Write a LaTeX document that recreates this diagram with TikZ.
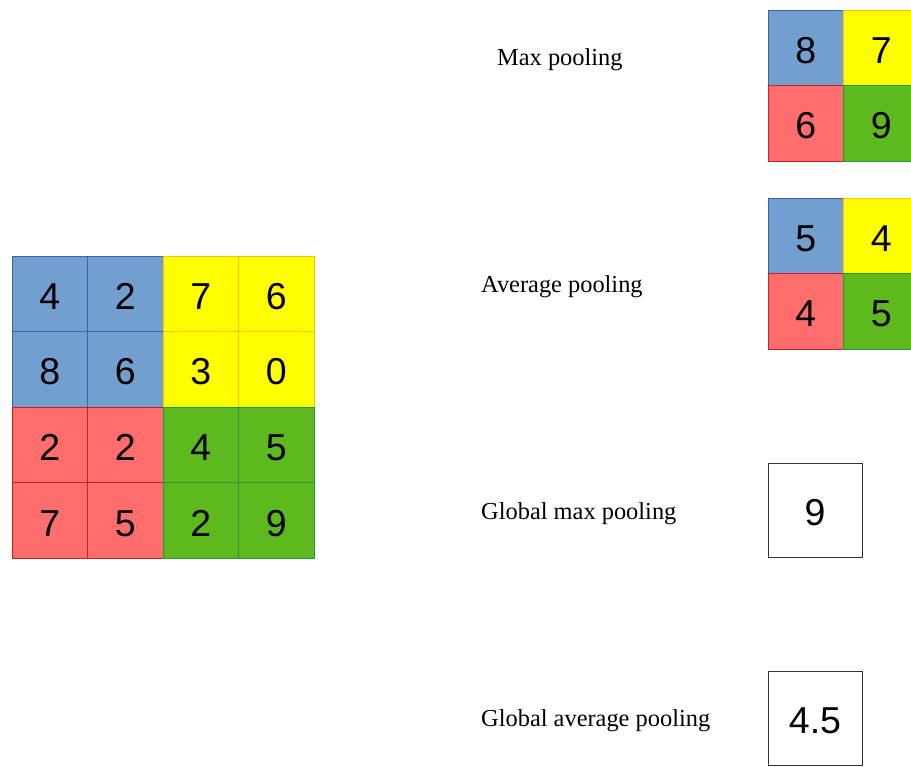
\documentclass[tikz,border=0pt]{standalone}
\usepackage{fontspec}
\setmainfont{Liberation Serif}
\newfontfamily\numfont{Liberation Sans}
\usetikzlibrary{positioning}
\definecolor{poolBlue}{HTML}{729FCF}
\definecolor{poolBlueBd}{HTML}{3465A4}
\definecolor{poolYellow}{HTML}{FFFF00}
\definecolor{poolYellowBd}{HTML}{FFBF00}
\definecolor{poolRed}{HTML}{FF6D6D}
\definecolor{poolRedBd}{HTML}{C9211E}
\definecolor{poolGreen}{HTML}{5EB91E}
\definecolor{poolGreenBd}{HTML}{1E9A41}
\tikzset{
  cell/.style={
    rectangle, minimum size=75.5pt, inner sep=0pt,
    line width=0.8pt, font=\numfont\fontsize{37.5}{38}\selectfont,
    text height=31.5pt, text depth=0pt
  },
  qblue/.style  ={cell, fill=poolBlue,   draw=poolBlueBd},
  qyellow/.style={cell, fill=poolYellow, draw=poolYellowBd},
  qred/.style   ={cell, fill=poolRed,    draw=poolRedBd},
  qgreen/.style ={cell, fill=poolGreen,  draw=poolGreenBd},
  quad/.code={\ifcase#1\tikzset{qblue}\or\tikzset{qyellow}\or\tikzset{qred}\or\tikzset{qgreen}\fi},
  gbox/.style={
    rectangle, draw=black!80, fill=white, line width=0.8pt,
    minimum size=94pt, inner sep=0pt, font=\numfont\fontsize{37.5}{38}\selectfont,
    text height=31.5pt, text depth=0pt
  },
  caption/.style={anchor=west, inner sep=0pt, font=\fontsize{24.4}{28}\selectfont}
}

\begin{document}
\begin{tikzpicture}[x=1pt, y=-1pt]
  \useasboundingbox (0,0) rectangle (911,767);
  \clip (0,0) rectangle (911,767);

  % input feature map 4x4
  \foreach \v [count=\k from 0] in {4,2,7,6, 8,6,3,0, 2,2,4,5, 7,5,2,9} {
    \pgfmathtruncatemacro\col{mod(\k,4)}
    \pgfmathtruncatemacro\row{div(\k,4)}
    \pgfmathtruncatemacro\q{2*(\row>1)+(\col>1)}
    \node[quad=\q] (in-\row-\col) at (49.75+75.5*\col, 293.75+75.5*\row) {\v};
  }

  % max pooling 2x2
  \foreach \v [count=\k from 0] in {8,7,6,9} {
    \pgfmathtruncatemacro\col{mod(\k,2)}
    \pgfmathtruncatemacro\row{div(\k,2)}
    \node[quad=\k] (max-\row-\col) at (805.75+75.5*\col, 47.75+75.5*\row) {\v};
  }

  % average pooling 2x2
  \foreach \v [count=\k from 0] in {5,4,4,5} {
    \pgfmathtruncatemacro\col{mod(\k,2)}
    \pgfmathtruncatemacro\row{div(\k,2)}
    \node[quad=\k] (avg-\row-\col) at (805.75+75.5*\col, 235.75+75.5*\row) {\v};
  }

  % global pooling
  \node[gbox] (gmax) at (815,510) {9};
  \node[gbox] (gavg) at (815,718) {4.5};

  % captions
  \node[caption] (lmax)  at (497,60)  {Max pooling};
  \node[caption] (lavg)  at (481,287) {Average pooling};
  \node[caption] (lgmax) at (481,514) {Global max pooling};
  \node[caption] (lgavg) at (481,721) {Global average pooling};
\end{tikzpicture}
\end{document}
